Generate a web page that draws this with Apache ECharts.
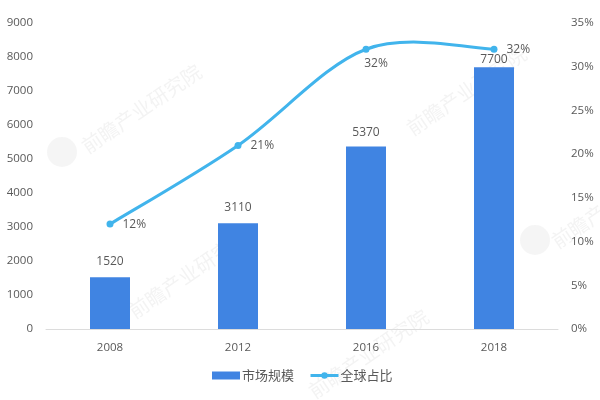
<!DOCTYPE html>
<html lang="zh">
<head>
<meta charset="UTF-8">
<title>市场规模与全球占比</title>
<style>
  html, body { margin: 0; padding: 0; background: #fff; }
  #chart { width: 600px; height: 400px; }
</style>
<script src="https://cdn.jsdelivr.net/npm/echarts@6/dist/echarts.min.js"></script>
</head>
<body>
<div id="chart"></div>
<script>
var years = ['2008', '2012', '2016', '2018'];
var marketSize = [1520, 3110, 5370, 7700];
var globalShare = [12, 21, 32, 32];
var shareLabelPos = ['right', 'right', 'bottom', 'right'];
var shareLabelOffset = [[0, 0], [0, 0], [10, -4], [0, 0]];
var barLabelGap = [10, 10, 8, 2];
var watermarks = [
  [78, 140], [403, 122], [125, 305], [305, 385], [548, 235]
];
var logos = [[62, 152], [535, 240]];

var textColor = '#595959';
var lineColor = '#41b4ec';
var fontFamily = '"Open Sans", "Noto Sans CJK SC", sans-serif';

var chart = echarts.init(document.getElementById('chart'));

// faint watermark
var marks = watermarks.map(function (p) {
  return {
    type: 'text', x: p[0], y: p[1], rotation: 0.6, z: -1, silent: true,
    style: { text: '前瞻产业研究院', fontSize: 20, fontFamily: '"Noto Sans CJK SC"', fill: 'rgba(120,120,120,0.09)' }
  };
});
logos.forEach(function (p) {
  marks.push({
    type: 'circle', x: p[0], y: p[1], z: -1, silent: true,
    shape: { r: 15 }, style: { fill: 'rgba(120,120,120,0.07)' }
  });
});

// the original curve overshoots between 2016 and 2018, the line series clamps that,
// so draw it as bezier segments through the axis scales
function renderCurve(params, api) {
  var i = api.value(0);
  if (i >= years.length - 1) return null;
  function pt(k) {
    k = Math.max(0, Math.min(years.length - 1, k));
    return api.coord([k, globalShare[k]]);
  }
  var a = pt(i), b = pt(i + 1), before = pt(i - 1), after = pt(i + 2);
  return {
    type: 'bezierCurve',
    shape: {
      x1: a[0], y1: a[1], x2: b[0], y2: b[1],
      cpx1: a[0] + (b[0] - before[0]) / 6, cpy1: a[1] + (b[1] - before[1]) / 6,
      cpx2: b[0] - (after[0] - a[0]) / 6, cpy2: b[1] - (after[1] - a[1]) / 6
    },
    style: { fill: null, stroke: lineColor, lineWidth: 3 }
  };
}

chart.setOption({
  animation: false,
  textStyle: { fontFamily: fontFamily },
  graphic: marks,
  grid: { left: 46, right: 42, top: 23, bottom: 71 },
  legend: {
    bottom: 13, left: 207, itemWidth: 28, itemHeight: 8, itemGap: 15,
    textStyle: { color: textColor, fontSize: 13, fontFamily: '"Noto Sans CJK SC"', padding: [0, 0, 0, -3] },
    data: [
      { name: '市场规模', icon: 'rect' },
      { name: '全球占比', lineStyle: { color: lineColor, width: 3, opacity: 1 }, itemStyle: { color: lineColor } }
    ]
  },
  xAxis: {
    type: 'category', data: years,
    axisLine: { lineStyle: { color: '#dcdcdc', width: 1 } },
    axisTick: { show: false },
    axisLabel: { color: textColor, fontSize: 11.5, margin: 13 }
  },
  yAxis: [{
    type: 'value', min: 0, max: 9000, interval: 1000,
    axisLine: { show: false }, axisTick: { show: false }, splitLine: { show: false },
    axisLabel: { color: textColor, fontSize: 11.5, margin: 13, formatter: function (v) { return String(v); } }
  }, {
    type: 'value', min: 0, max: 35, interval: 5,
    axisLine: { show: false }, axisTick: { show: false }, splitLine: { show: false },
    axisLabel: { color: textColor, fontSize: 11.5, margin: 13, formatter: '{value}%' }
  }],
  series: [{
    name: '市场规模', type: 'bar', barWidth: 40,
    itemStyle: { color: '#4084e2' },
    data: marketSize.map(function (v, i) {
      return { value: v, label: { show: true, position: 'top', distance: barLabelGap[i], color: textColor, fontSize: 12 } };
    })
  }, {
    type: 'custom', yAxisIndex: 1, renderItem: renderCurve, silent: true, z: 2,
    data: globalShare.map(function (v, i) { return [i, v]; })
  }, {
    name: '全球占比', type: 'line', yAxisIndex: 1, z: 3,
    symbol: 'circle', symbolSize: 7,
    lineStyle: { opacity: 0 },
    itemStyle: { color: lineColor },
    data: globalShare.map(function (v, i) {
      return { value: v, label: { show: true, position: shareLabelPos[i], offset: shareLabelOffset[i], distance: 9, color: textColor, fontSize: 12, formatter: '{c}%' } };
    })
  }]
});
</script>
</body>
</html>
